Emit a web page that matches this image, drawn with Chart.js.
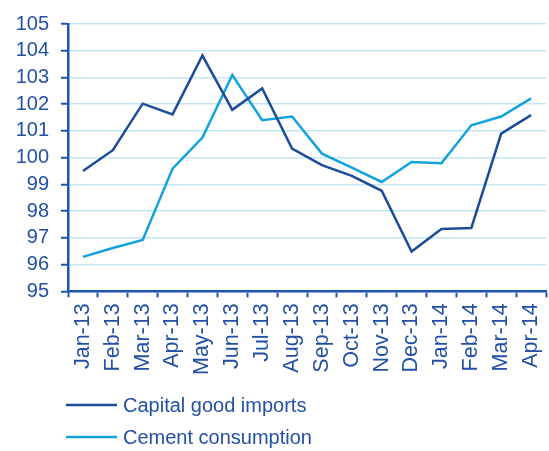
<!DOCTYPE html>
<html>
<head>
<meta charset="utf-8">
<script src="https://cdn.jsdelivr.net/npm/chart.js@4/dist/chart.umd.min.js"></script>
<style>
  html, body { margin: 0; padding: 0; background: #fff; }
  #wrap { width: 549px; height: 451px; }
</style>
</head>
<body>
<div id="wrap"><canvas id="chart" width="549" height="451"></canvas></div>
<script>
const months = ["Jan-13", "Feb-13", "Mar-13", "Apr-13", "May-13", "Jun-13", "Jul-13", "Aug-13",
  "Sep-13", "Oct-13", "Nov-13", "Dec-13", "Jan-14", "Feb-14", "Mar-14", "Apr-14"];
const capitalImports = [99.5, 100.28, 102.02, 101.62, 103.82, 101.79, 102.59, 100.34,
  99.72, 99.32, 98.76, 96.49, 97.33, 97.37, 100.9, 101.59];
const cementUse = [96.29, 96.62, 96.92, 99.59, 100.75, 103.09, 101.4, 101.54,
  100.15, 99.63, 99.09, 99.84, 99.79, 101.21, 101.54, 102.22];
const yMin = 95;
const yMax = 105;

const TEXT = "#2150a6";
const AXIS = "#1f55b0";
const DARK = "#1b4d9a";
const LIGHT = "#12a2de";
const GRID = "#c3e6f7";
const FONT = "'Liberation Sans', Arial, sans-serif";

// legend drawn as two stacked rows under the axis labels
const stackedLegend = {
  id: "stackedLegend",
  afterDraw(chart) {
    const ctx = chart.ctx;
    const x0 = chart.chartArea.left - 2;
    ctx.save();
    ctx.font = `20px ${FONT}`;
    ctx.textBaseline = "middle";
    chart.data.datasets.forEach((ds, i) => {
      const y = 405 + i * 32;
      ctx.strokeStyle = ds.borderColor;
      ctx.lineWidth = 2.5;
      ctx.beginPath();
      ctx.moveTo(x0, y);
      ctx.lineTo(x0 + 51, y);
      ctx.stroke();
      ctx.fillStyle = TEXT;
      ctx.fillText(ds.label, x0 + 57, y + 1);
    });
    ctx.restore();
  }
};

new Chart(document.getElementById("chart"), {
  type: "line",
  data: {
    labels: months,
    datasets: [
      { label: "Capital good imports", data: capitalImports, borderColor: DARK, backgroundColor: DARK,
        borderWidth: 2.5, pointRadius: 0, tension: 0 },
      { label: "Cement consumption", data: cementUse, borderColor: LIGHT, backgroundColor: LIGHT,
        borderWidth: 2.5, pointRadius: 0, tension: 0 }
    ]
  },
  options: {
    responsive: false,
    animation: false,
    layout: { padding: { top: 22, right: 3, bottom: 70, left: 0 } },
    plugins: { legend: { display: false }, tooltip: { enabled: false } },
    scales: {
      x: {
        offset: true,
        afterFit(scale) { scale.paddingLeft = 0; scale.paddingRight = 0; },
        grid: { offset: true, drawOnChartArea: false, tickLength: 6, tickColor: AXIS, tickWidth: 2 },
        border: { color: AXIS, width: 2.5 },
        ticks: { color: TEXT, font: { family: FONT, size: 21.5 }, minRotation: 90, maxRotation: 90, padding: 6 }
      },
      y: {
        min: yMin,
        max: yMax,
        afterFit(scale) { scale.width = 68; },
        grid: { color: GRID, lineWidth: 1.5, tickLength: 7, tickColor: AXIS, tickWidth: 2 },
        border: { color: AXIS, width: 2.5 },
        ticks: { stepSize: 1, autoSkip: false, color: TEXT, font: { family: FONT, size: 20 }, padding: 12 }
      }
    }
  },
  plugins: [stackedLegend]
});
</script>
</body>
</html>
